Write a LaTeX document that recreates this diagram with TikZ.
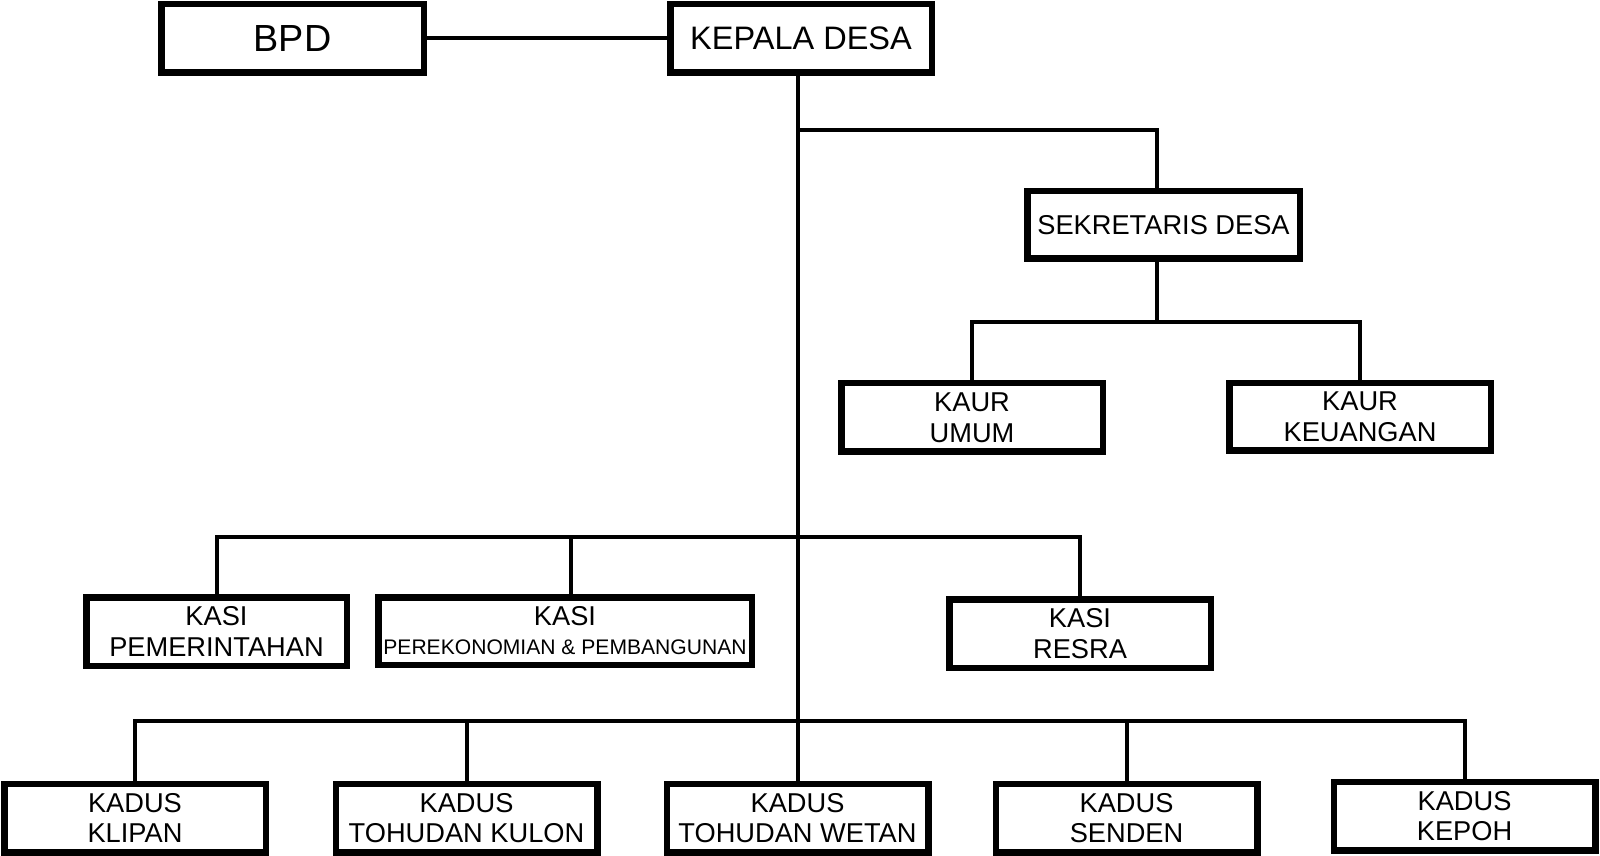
\documentclass[tikz,border=0pt]{standalone}
\usepackage{fontspec}
\setmainfont{Liberation Sans}

\begin{document}
\begin{tikzpicture}[x=.2mm,y=-.2mm,
  orgbox/.style={draw,line width=1.3mm,align=center,inner sep=0pt,
    font=\fontsize{15.5pt}{17.5pt}\selectfont},
  boxsize/.style 2 args={minimum width=#1*.2mm-1.3mm,minimum height=#2*.2mm-1.3mm},
  link/.style={line width=.8mm}]
  \useasboundingbox (0,0) rectangle (1600,856);
  % top
  \node[orgbox,boxsize={269}{75},font=\fontsize{21.5pt}{24pt}\selectfont] (bpd) at (292.5,38.5) {BPD};
  \node[orgbox,boxsize={268}{75},font=\fontsize{18.5pt}{21pt}\selectfont] (kades) at (801,38.5) {KEPALA DESA};
  \node[orgbox,boxsize={279}{74}] (sekdes) at (1163.5,225) {SEKRETARIS DESA};
  \node[orgbox,boxsize={268}{75}] (kaurumum) at (972,417.5) {KAUR\\UMUM};
  \node[orgbox,boxsize={268}{74}] (kaurkeu) at (1360,417) {KAUR\\KEUANGAN};
  % kasi
  \node[orgbox,boxsize={267}{75}] (kasipem) at (216.5,631.5) {KASI\\PEMERINTAHAN};
  \node[orgbox,boxsize={380}{74}] (kasiekbang) at (565,631)
    {KASI\\[-1pt]{\fontsize{12pt}{14pt}\selectfont PEREKONOMIAN \& PEMBANGUNAN}};
  \node[orgbox,boxsize={268}{75}] (kasiresra) at (1080,633.5) {KASI\\RESRA};
  % kadus
  \foreach \x/\y/\n/\t in {135/818/klipan/KLIPAN,466.5/818/kulon/TOHUDAN KULON,
      797.5/818/wetan/TOHUDAN WETAN,1126.5/818/senden/SENDEN,1464.5/816/kepoh/KEPOH}
    \node[orgbox,boxsize={268}{75}] (\n) at (\x,\y) {KADUS\\\t};

  \coordinate (jsek) at (796,130);
  \coordinate (jkaur) at (1157,322);
  \coordinate (jkasi) at (796,537);
  \coordinate (jkadus) at (796,721);

  \draw[link] (bpd) -- (kades);
  \draw[link] (kades.south -| wetan.north) -- (wetan.north);
  \draw[link] (jsek) -| ([xshift=-1.4mm]sekdes.north);
  \draw[link] (sekdes.south -| jkaur) -- (jkaur);
  \draw[link] (kaurumum.north) |- (jkaur) -| (kaurkeu.north);
  \draw[link] (kasipem.north) |- (jkasi) -| (kasiresra.north);
  \draw[link] ([xshift=1.2mm]kasiekbang.north) -- ([xshift=1.2mm]kasiekbang.north |- jkasi);
  \draw[link] (klipan.north) |- (jkadus) -| (kepoh.north);
  \foreach \n in {kulon,senden}
    \draw[link] (\n.north) -- (\n.north |- jkadus);
\end{tikzpicture}
\end{document}
